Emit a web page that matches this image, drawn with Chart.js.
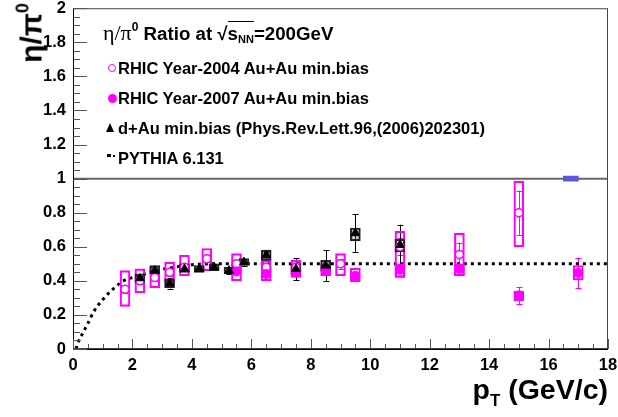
<!DOCTYPE html>
<html><head><meta charset="utf-8">
<script src="https://cdn.jsdelivr.net/npm/chart.js@4.4.1/dist/chart.umd.min.js"></script>
<style>
html,body{margin:0;padding:0;background:#fff;}
#wrap{position:relative;width:618px;height:417px;font-family:"Liberation Sans",Arial,sans-serif;font-weight:bold;color:#000;overflow:hidden;}
canvas{position:absolute;left:0;top:0;}
.t{position:absolute;white-space:nowrap;line-height:1;}
.lg{font-size:16.5px;left:118px;transform:translateY(-50%);}
</style></head><body>
<div id="wrap">
<canvas id="c" width="618" height="417"></canvas>
<div class="t" style="left:30px;top:33px;font-size:30px;transform:translate(-50%,-50%) rotate(-90deg);">η/π<sup style="font-size:18px;vertical-align:13px;">0</sup></div>
<div class="t" style="right:10px;top:375px;font-size:28.5px;">p<sub style="font-size:17px;vertical-align:-7px;">T</sub> (GeV/c)</div>
<div class="t" style="left:103px;top:33px;font-size:18.7px;transform:translateY(-50%);"><span style="font-family:'Liberation Serif',serif;font-weight:normal;font-size:22px;">η/π</span><sup style="font-size:12px;vertical-align:9px;">0</sup> Ratio at √<span style="border-top:1.5px solid #000;padding-top:1px;">s<sub style="font-size:11px;vertical-align:-3px;">NN</sub></span>=200GeV</div>
<div style="position:absolute;left:108px;top:64px;width:6px;height:6px;border:1.5px solid #f0f;border-radius:50%;"></div>
<div class="t lg" style="top:68px;">RHIC Year-2004 Au+Au min.bias</div>
<div style="position:absolute;left:108px;top:94px;width:9px;height:9px;background:#f0f;border-radius:50%;"></div>
<div class="t lg" style="top:98px;">RHIC Year-2007 Au+Au min.bias</div>
<div style="position:absolute;left:106px;top:123px;width:0;height:0;border-left:4.5px solid transparent;border-right:4.5px solid transparent;border-bottom:9px solid #000;"></div>
<div class="t lg" style="top:128px;">d+Au min.bias (Phys.Rev.Lett.96,(2006)202301)</div>
<div style="position:absolute;left:107px;top:154px;width:4px;height:3px;background:#000;"></div>
<div style="position:absolute;left:113px;top:155px;width:2px;height:2px;background:#000;"></div>
<div class="t lg" style="top:158px;">PYTHIA 6.131</div>
</div>
<script>
// ---- data ----
const auau2004X    = [1.75, 2.25, 2.75, 3.25, 3.75, 4.5, 5.5, 6.5, 7.5, 9.0, 11.0, 13.0, 15.0];
const auau2004Y    = [0.35, 0.40, 0.42, 0.45, 0.48, 0.53, 0.50, 0.48, 0.48, 0.50, 0.60, 0.555, 0.80];
const auau2004Stat = [0.02, 0.02, 0.02, 0.02, 0.02, 0.02, 0.02, 0.02, 0.02, 0.03, 0.05, 0.07, 0.13];
const auau2004SysLo= [0.25, 0.33, 0.36, 0.39, 0.43, 0.46, 0.44, 0.43, 0.43, 0.43, 0.42, 0.43, 0.60];
const auau2004SysHi= [0.46, 0.47, 0.48, 0.51, 0.55, 0.59, 0.56, 0.52, 0.52, 0.56, 0.69, 0.68, 0.985];

const auau2007X    = [5.5, 6.5, 7.5, 8.5, 9.5, 11.0, 13.0, 15.0, 17.0];
const auau2007Y    = [0.455, 0.44, 0.455, 0.46, 0.43, 0.465, 0.47, 0.315, 0.447];
const auau2007Stat = [0.01, 0.01, 0.01, 0.015, 0.02, 0.02, 0.02, 0.05, 0.09];
const auau2007SysLo= [0.40, 0.40, 0.42, 0.43, 0.395, 0.42, 0.43, 0.283, 0.405];
const auau2007SysHi= [0.50, 0.48, 0.49, 0.50, 0.475, 0.50, 0.50, 0.34, 0.49];

const dauX     = [2.25, 2.75, 3.25, 3.75, 4.25, 4.75, 5.25, 5.75, 6.5, 7.5, 8.5, 9.5, 11.0];
const dauY     = [0.415, 0.46, 0.385, 0.47, 0.47, 0.48, 0.46, 0.51, 0.55, 0.47, 0.49, 0.68, 0.61];
const dauStat  = [0.015, 0.015, 0.03, 0.015, 0.015, 0.015, 0.02, 0.02, 0.02, 0.065, 0.09, 0.11, 0.12];
const dauSysLo = [0.39, 0.44, 0.36, 0.45, 0.45, 0.46, 0.44, 0.49, 0.52, 0.44, 0.46, 0.635, 0.57];
const dauSysHi = [0.44, 0.49, 0.41, 0.50, 0.49, 0.50, 0.48, 0.53, 0.58, 0.50, 0.52, 0.71, 0.645];

const pythiaX = [0.1, 0.2, 0.35, 0.5, 0.7, 1.0, 1.4, 1.7, 2.0, 2.4, 2.8, 3.4, 4.0, 5, 6, 8, 10, 12, 14, 16, 18];
const pythiaY = [0.0, 0.05, 0.10, 0.15, 0.22, 0.29, 0.36, 0.40, 0.42, 0.44, 0.46, 0.48, 0.495, 0.5, 0.5, 0.5, 0.5, 0.5, 0.5, 0.5, 0.5];

const unityX = [0, 18];
const unityY = [1, 1];
const normBoxX = [16.75];
const normBoxLo = [0.985];
const normBoxHi = [1.015];

const xTickLabels = [0, 2, 4, 6, 8, 10, 12, 14, 16, 18];
const yTickLabels = ['0','0.2','0.4','0.6','0.8','1','1.2','1.4','1.6','1.8','2'];

// ---- helpers ----
const pts = (xs, ys) => xs.map((x, i) => ({x, y: ys[i]}));
const boxes = (xs, lo, hi) => xs.map((x, i) => ({x, y: [lo[i], hi[i]]}));
const MAG = '#ff00ff';

const errSeries = [
  {xs: auau2004X, ys: auau2004Y, e: auau2004Stat, c: MAG},
  {xs: auau2007X, ys: auau2007Y, e: auau2007Stat, c: MAG},
  {xs: dauX, ys: dauY, e: dauStat, c: '#000'}
];

const errorBars = {
  id: 'errorBars',
  beforeDatasetsDraw(chart) {
    const {ctx, scales: {x, y}} = chart;
    ctx.save();
    ctx.lineWidth = 1;
    errSeries.forEach(s => {
      ctx.strokeStyle = s.c;
      s.xs.forEach((xv, i) => {
        const px = Math.round(x.getPixelForValue(xv)) + 0.5;
        const y1 = y.getPixelForValue(s.ys[i] - s.e[i]);
        const y2 = y.getPixelForValue(s.ys[i] + s.e[i]);
        ctx.beginPath();
        ctx.moveTo(px, y1); ctx.lineTo(px, y2);
        ctx.moveTo(px - 3, Math.round(y1) + 0.5); ctx.lineTo(px + 3, Math.round(y1) + 0.5);
        ctx.moveTo(px - 3, Math.round(y2) + 0.5); ctx.lineTo(px + 3, Math.round(y2) + 0.5);
        ctx.stroke();
      });
    });
    ctx.restore();
  }
};

const frameTicks = {
  id: 'frameTicks',
  afterDatasetsDraw(chart) {
    const {ctx, chartArea: a, scales: {x, y}} = chart;
    ctx.save();
    ctx.lineWidth = 1;
    ctx.strokeStyle = '#444';
    ctx.strokeRect(a.left + 0.5, a.top + 0.5, a.right - a.left - 1, a.bottom - a.top - 1);
    ctx.strokeStyle = '#000';
    ctx.beginPath();
    ctx.moveTo(a.left + 0.5, a.top); ctx.lineTo(a.left + 0.5, a.bottom + 0.5); ctx.lineTo(a.right, a.bottom + 0.5);
    ctx.stroke();
    ctx.strokeStyle = '#555';
    ctx.beginPath();
    for (let i = 0; i <= 36; i++) {
      const px = Math.round(x.getPixelForValue(i * 0.5)) + 0.5;
      ctx.moveTo(px, a.bottom);
      ctx.lineTo(px, a.bottom - (i % 4 === 0 ? 10 : 5));
    }
    for (let i = 0; i <= 40; i++) {
      const py = Math.round(y.getPixelForValue(i * 0.05)) + 0.5;
      ctx.moveTo(a.left, py);
      ctx.lineTo(a.left + (i % 4 === 0 ? 14 : 7), py);
    }
    ctx.stroke();
    ctx.restore();
  }
};

const tickFont = {family: "'Liberation Sans', Arial, sans-serif", weight: 'bold', size: 16.5, lineHeight: 1.0};

new Chart(document.getElementById('c'), {
  type: 'scatter',
  data: {
    datasets: [
      {type: 'line', label: 'PYTHIA 6.131', data: pts(pythiaX, pythiaY), borderColor: '#000', borderWidth: 3,
       borderDash: [3, 4], pointRadius: 0, cubicInterpolationMode: 'monotone', order: 6},
      {type: 'line', label: 'unity', data: pts(unityX, unityY), borderColor: '#666', borderWidth: 2, pointRadius: 0, order: 7},
      {type: 'bar', label: 'norm', data: boxes(normBoxX, normBoxLo, normBoxHi), backgroundColor: '#5a5ad8',
       borderWidth: 0, barThickness: 15, grouped: false, order: 5},
      {type: 'bar', label: 'dAu sys', data: boxes(dauX, dauSysLo, dauSysHi), backgroundColor: 'rgba(80,80,80,0.25)',
       borderColor: '#222', borderWidth: 1.5, borderSkipped: false, barThickness: 10, grouped: false, order: 4},
      {type: 'bar', label: '2004 sys', data: boxes(auau2004X, auau2004SysLo, auau2004SysHi), backgroundColor: 'rgba(0,0,0,0)',
       borderColor: MAG, borderWidth: 1.5, borderSkipped: false, barThickness: 10, grouped: false, order: 4},
      {type: 'bar', label: '2007 sys', data: boxes(auau2007X, auau2007SysLo, auau2007SysHi), backgroundColor: 'rgba(0,0,0,0)',
       borderColor: MAG, borderWidth: 1.5, borderSkipped: false, barThickness: 10, grouped: false, order: 4},
      {type: 'line', label: 'd+Au', data: pts(dauX, dauY), showLine: false, pointStyle: 'triangle', pointRadius: 5,
       backgroundColor: '#000', borderColor: '#000', borderWidth: 1, order: 1},
      {type: 'line', label: '2004', data: pts(auau2004X, auau2004Y), showLine: false, pointStyle: 'circle', pointRadius: 4,
       backgroundColor: '#fff', borderColor: MAG, borderWidth: 1.5, order: 2},
      {type: 'line', label: '2007', data: pts(auau2007X, auau2007Y), showLine: false, pointStyle: 'circle', pointRadius: 4.5,
       backgroundColor: MAG, borderColor: MAG, borderWidth: 1, order: 1}
    ]
  },
  options: {
    responsive: false, animation: false, devicePixelRatio: 1,
    layout: {padding: {top: 0, right: 10, left: 0, bottom: 0}},
    plugins: {legend: {display: false}, tooltip: {enabled: false}},
    scales: {
      x: {type: 'linear', min: 0, max: 18, offset: false,
          grid: {display: false, drawTicks: true, tickLength: 8}, border: {display: false},
          afterFit: s => { s.height = 68; },
          afterBuildTicks: s => { s.ticks = xTickLabels.map(v => ({value: v})); },
          ticks: {font: tickFont, color: '#000', padding: 0, maxRotation: 0, autoSkip: false,
                  callback: v => String(v)}},
      y: {type: 'linear', min: 0, max: 2,
          grid: {display: false, drawTicks: true, tickLength: 7}, border: {display: false},
          afterFit: s => { s.width = 73; },
          afterBuildTicks: s => { s.ticks = yTickLabels.map(t => ({value: parseFloat(t)})); },
          ticks: {font: tickFont, color: '#000', padding: 0, autoSkip: false,
                  callback: (v, i) => yTickLabels[i]}}
    }
  },
  plugins: [errorBars, frameTicks]
});
</script>
</body></html>
